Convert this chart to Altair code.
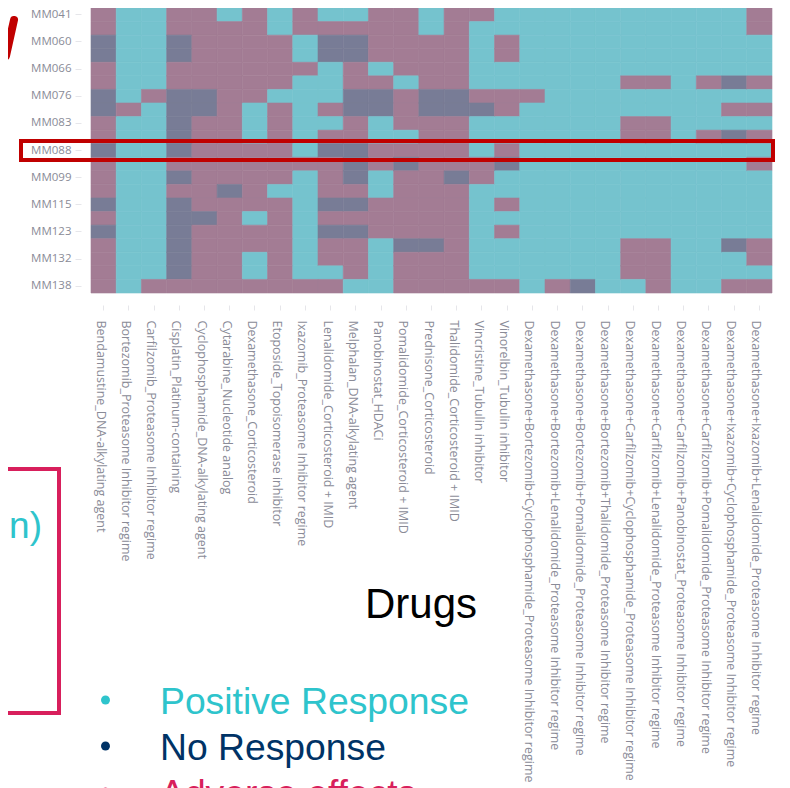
import altair as alt
import pandas as pd

drugs = [
    "Bendamustine_DNA-alkylating agent",
    "Bortezomib_Proteasome Inhibitor regime",
    "Carfilzomib_Proteasome Inhibitor regime",
    "Cisplatin_Platinum-containing",
    "Cyclophosphamide_DNA-alkylating agent",
    "Cytarabine_Nucleotide analog",
    "Dexamethasone_Corticosteroid",
    "Etoposide_Topoisomerase inhibitor",
    "Ixazomib_Proteasome Inhibitor regime",
    "Lenalidomide_Corticosteroid + IMID",
    "Melphalan_DNA-alkylating agent",
    "Panobinostat_HDACi",
    "Pomalidomide_Corticosteroid + IMID",
    "Prednisone_Corticosteroid",
    "Thalidomide_Corticosteroid + IMID",
    "Vincristine_Tubulin inhibitor",
    "Vinorelbin_Tubulin inhibitor",
    "Dexamethasone+Bortezomib+Cyclophosphamide_Proteasome Inhibitor regime",
    "Dexamethasone+Bortezomib+Lenalidomide_Proteasome Inhibitor regime",
    "Dexamethasone+Bortezomib+Pomalidomide_Proteasome Inhibitor regime",
    "Dexamethasone+Bortezomib+Thalidomide_Proteasome Inhibitor regime",
    "Dexamethasone+Carfilzomib+Cyclophosphamide_Proteasome Inhibitor regime",
    "Dexamethasone+Carfilzomib+Lenalidomide_Proteasome Inhibitor regime",
    "Dexamethasone+Carfilzomib+Panobinostat_Proteasome Inhibitor regime",
    "Dexamethasone+Carfilzomib+Pomalidomide_Proteasome Inhibitor regime",
    "Dexamethasone+Ixazomib+Cyclophosphamide_Proteasome Inhibitor regime",
    "Dexamethasone+Ixazomib+Lenalidomide_Proteasome Inhibitor regime",
]
labelled_samples = ["MM041", "MM060", "MM066", "MM076", "MM083", "MM088",
                    "MM099", "MM115", "MM123", "MM132", "MM138"]
# Every second row carries no printed label in the picture.
samples = ["MM041", "r1", "MM060", "r3", "MM066", "r5", "MM076", "r7", "MM083", "r9",
           "MM088", "r11", "MM099", "r13", "MM115", "r15", "MM123", "r17", "MM132", "r19", "MM138"]
# One string per drug, one letter per sample row: T positive, P adverse, G no response.
responses = [
    "PPGGPPGGPPGPPPGPGPPPP",
    "TTTTTTTPTTTTTTTTTTTTT",
    "TTTTTTPTTTTTTTTTTTTTP",
    "PPGGPPGGGGGPGPGGGGGGP",
    "PPPPPPGGPPPPPPPGPPPPP",
    "TPPPPPPPPPPPPGPPPPPPP",
    "PPPPPPPTTTPPPPPTPPTTP",
    "TTPPPPTPPPPPPTPPPPPPP",
    "PPTTPTTTTTTPTTTTTTTTP",
    "TPGGTTTPTPGPPPGPGPPTP",
    "TPGGPPGGPPGGGPGPGPPPT",
    "PPPPTPGGTTPPTTPPPTTTT",
    "PPPPPTPPPTPGPPPPPGPPP",
    "TTPPPPGGPPPPPPPPPGPPP",
    "PPPPPPGGPPPPGPPPPPPPP",
    "PTTTTTPGTTTPPTTTTTTTP",
    "TTPPTTPPTTPGTTPTPTTTP",
    "TTTTTTPTTTTTTTTTTTTTT",
    "TTTTTTTTTTTTTTTTTTTTP",
    "TTTTTTTTTTTTTTTTTTTTG",
    "TTTTTTTTTTTTTTTTTTTTT",
    "TTTTTPTTPPTTTTTTTPPPT",
    "TTTTTPTTPPTTTTTTTPPPP",
    "TTTTTTTTTTTTTTTTTTTTT",
    "TTTTTPTTTPTTTTTTTTTTT",
    "TTTTTGTPTGTTTTTTTGTTP",
    "PPTTTPTPTPTPTTTTTPPTP",
]

rows = [{"drug": d, "sample": s, "r": code[i]}
        for d, code in zip(drugs, responses)
        for i, s in enumerate(samples)]
heat_df = pd.DataFrame(rows)

W, H = 681, 285
X0, Y0 = 91, 8
def px(v): return alt.value(v - X0)
def py(v): return alt.value(v - Y0)

GREY = "#8a8b97"
cell_scale = alt.Scale(domain=["T", "P", "G"], range=["#75C3CE", "#A37C94", "#787C96"])
heat = alt.Chart(heat_df).mark_rect(strokeWidth=0.6).encode(
    x=alt.X("drug:N", sort=drugs, title=None,
            scale=alt.Scale(paddingInner=0, paddingOuter=0),
            axis=alt.Axis(orient="bottom", offset=12, domain=False, grid=False,
                          tickSize=5, tickColor="#e6e6ea", labelAngle=90, labelAlign="left",
                          labelBaseline="middle", labelPadding=10, labelLimit=600, labelOffset=-3,
                          labelFont="Open Sans", labelFontSize=12.5, labelColor=GREY)),
    y=alt.Y("sample:N", sort=samples, title=None,
            scale=alt.Scale(paddingInner=0, paddingOuter=0),
            axis=alt.Axis(orient="left", offset=10, domain=False, grid=False, values=labelled_samples,
                          tickSize=6, tickColor="#e6e6ea", labelPadding=4,
                          labelFont="Open Sans", labelFontSize=11.5, labelColor=GREY)),
    color=alt.Color("r:N", legend=None, scale=cell_scale),
    stroke=alt.Stroke("r:N", legend=None, scale=cell_scale),
)

one = pd.DataFrame({"a": [0]})
def base(): return alt.Chart(one)

red_box = base().mark_rect(fill=None, stroke="#C00000", strokeWidth=4).encode(
    x=px(21), x2=px(773), y=py(141), y2=py(160))
slash = base().mark_rule(stroke="#C00000", strokeWidth=8, strokeCap="round").encode(
    x=px(14), x2=px(6), y=py(20), y2=py(56))
pink_box = base().mark_rect(fill=None, stroke="#D81F5C", strokeWidth=4).encode(
    x=px(-20), x2=px(59), y=py(469), y2=py(713))

def label(txt, x, y, size, color, align="left"):
    return base().mark_text(text=txt, font="Liberation Sans", fontSize=size, color=color,
                            align=align, baseline="alphabetic").encode(x=px(x), y=py(y))

def dot(x, y, color):
    return base().mark_circle(size=80, color=color, opacity=1).encode(x=px(x), y=py(y))

chart = alt.layer(
    heat, red_box, slash, pink_box,
    label("n)", 42, 538, 37, "#2EC4CC", "right"),
    label("Drugs", 365, 618, 42, "#000000"),
    dot(105.5, 700, "#2EC4CC"),
    label("Positive Response", 160, 714, 37.3, "#2EC4CC"),
    dot(105.5, 746, "#003366"),
    label("No Response", 160, 760, 37.3, "#003366"),
    dot(105.5, 792, "#D81F5C"),
    label("Adverse effects", 160, 806, 37.3, "#D81F5C"),
).resolve_scale(x="independent", y="independent").properties(
    width=W, height=H,
    autosize=alt.AutoSizeParams(type="none"),
    padding={"left": X0 - 8, "top": 0, "right": 10, "bottom": 495},
).configure_view(strokeWidth=0)

chart.save("out.html", embed_options={"renderer": "svg", "actions": False})
